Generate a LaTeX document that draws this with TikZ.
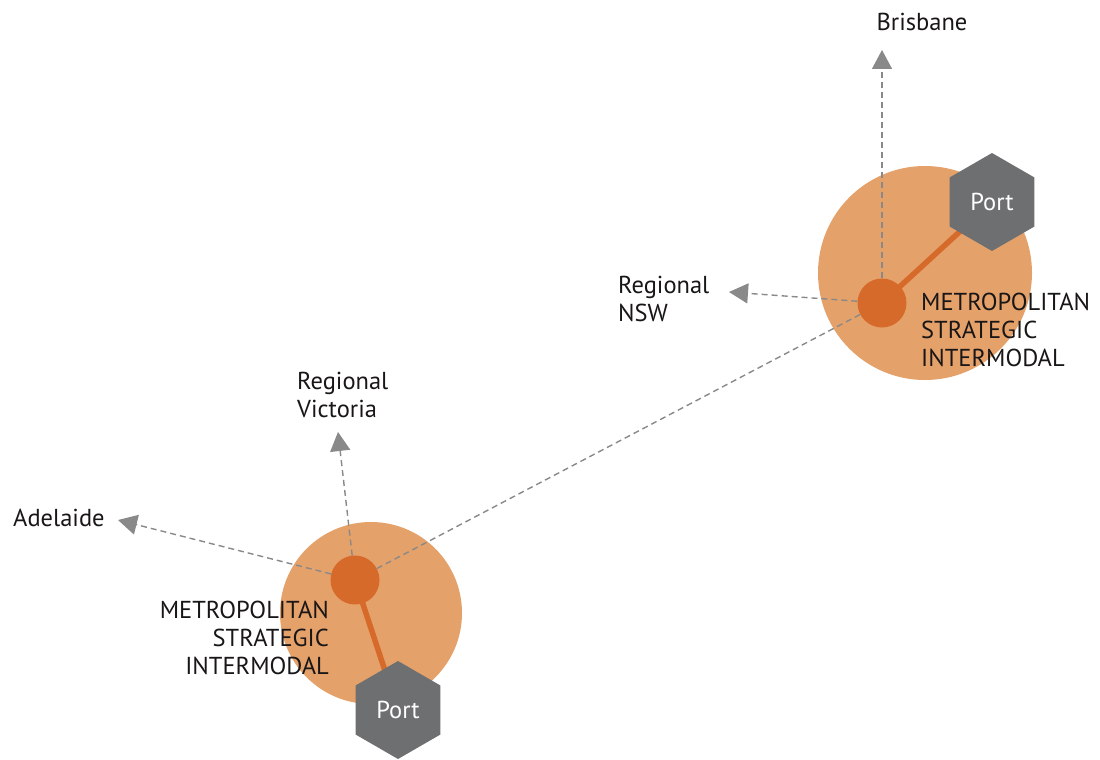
\documentclass[tikz,border=0pt]{standalone}
\usepackage{fontspec}
\setmainfont{PT Sans}
\usetikzlibrary{shapes.geometric,arrows.meta}
\definecolor{orangeclair}{RGB}{229,161,106}
\definecolor{orangefonce}{RGB}{214,106,42}
\definecolor{grisport}{RGB}{110,111,113}
\definecolor{grislien}{RGB}{137,137,137}
\definecolor{texte}{RGB}{25,22,23}

\begin{document}
\begin{tikzpicture}[x=1pt,y=-1pt]
\tikzstyle{lien}=[-{Triangle[length=19pt,width=20pt]},grislien,dashed,dash pattern=on 6pt off 4pt,line width=1.4pt]
\tikzstyle{liaison}=[grislien,dashed,dash pattern=on 6pt off 4pt,line width=1.4pt]
\tikzset{zone/.style={circle,fill=orangeclair,inner sep=0pt,minimum size=#1},
zone/.default={200pt},
pole/.style={circle,fill=orangefonce,inner sep=0pt,minimum size=49pt},
port/.style={regular polygon,regular polygon sides=6,shape border rotate=30,fill=grisport,inner sep=0pt,minimum size=98pt,text=white},
etiquette/.style={text=texte,inner sep=0pt,font=\fontsize{24.5}{28}\selectfont}}
\useasboundingbox (0,0) rectangle (1100,760);

\node[zone=214pt] (Z1) at (925,273) {};
\node[zone=182pt] (Z2) at (371,613) {};
\node[pole] (S) at (882,303) {};
\node[pole] (M) at (355,580) {};
\draw[orangefonce,line width=5.5pt] (S.center) -- (992,202);
\draw[orangefonce,line width=5.5pt] (M.center) -- (398,710);
\node[port,font=\fontsize{24.5}{28}\selectfont] (P1) at (992,202) {Port};
\node[port,font=\fontsize{24.5}{28}\selectfont] (P2) at (398,710) {Port};

\coordinate (tB) at (882,50);
\coordinate (tN) at (729,292);
\coordinate (tV) at (338,432);
\coordinate (tA) at (118,520);
\draw[lien] (S) -- (tB);
\draw[lien] (S) -- (tN);
\draw[lien] (M) -- (tV);
\draw[lien] (M) -- (tA);
\draw[liaison] (M) -- (S);

\node[etiquette] (B) at (922,22) {Brisbane};
\node[etiquette,anchor=west,align=left] (N) at (618,299) {Regional\\NSW};
\node[etiquette,anchor=west,align=left] (V) at (297,395) {Regional\\Victoria};
\node[etiquette,anchor=west] (A) at (13,518) {Adelaide};
\node[etiquette,anchor=west,align=left] (T1) at (921,330) {METROPOLITAN\\STRATEGIC\\INTERMODAL};
\node[etiquette,anchor=east,align=right] (T2) at (329,638) {METROPOLITAN\\STRATEGIC\\INTERMODAL};

\end{tikzpicture}
\end{document}
